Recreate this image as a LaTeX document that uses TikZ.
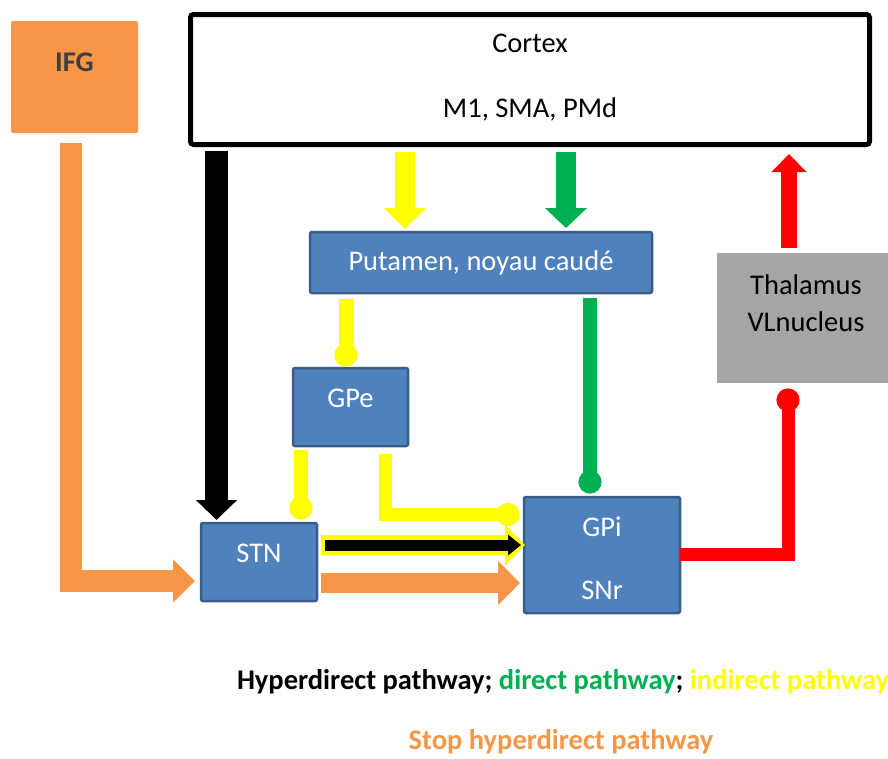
\documentclass[tikz,border=0pt]{standalone}
\usepackage{fontspec}
\setmainfont{Carlito}
\usetikzlibrary{arrows.meta,calc}
\definecolor{blu}{HTML}{4F81BD}
\definecolor{bdr}{HTML}{385D8A}
\definecolor{org}{HTML}{F79646}
\definecolor{gry}{HTML}{A5A5A5}
\definecolor{grn}{HTML}{00B050}
\definecolor{yel}{HTML}{FFFF00}
\definecolor{rd}{HTML}{FF0000}
\definecolor{dgr}{HTML}{3F3F3F}
\begin{document}
\begin{tikzpicture}[x=1pt,y=-1pt,
  every node/.style={inner sep=0pt,outer sep=0pt},
  txt/.style={font=\fontsize{28.5}{34}\selectfont,align=center},
  bluebox/.style={draw=bdr,fill=blu,line width=2.5pt,rounded corners=2pt},
  blockarrow/.style={line width=#1,line join=miter},
  dotline/.style={line width=#1,line join=miter,-{Circle[length=23pt,width=23pt]}}
]
\useasboundingbox (0,0) rectangle (888,758);

% boxes
\node[fill=org,rounded corners=2pt,minimum width=127pt,minimum height=112pt,
  label={[txt,text=dgr,font=\fontsize{28.5}{34}\selectfont\bfseries,yshift=15pt]center:IFG}]
  (ifg) at (74.5,77) {};
\node[draw=black,line width=5pt,rounded corners=3pt,minimum width=679pt,minimum height=130pt,
  label={[txt,yshift=2pt]center:{Cortex\\[31pt]M1, SMA, PMd}}]
  (cortex) at (530,79.5) {};
\node[bluebox,minimum width=342pt,minimum height=61pt,
  label={[txt,text=white]center:{Putamen, noyau caudé}}]
  (put) at (481,262.5) {};
\node[bluebox,minimum width=115pt,minimum height=78pt,
  label={[txt,text=white,yshift=9pt]center:GPe}]
  (gpe) at (350.5,407) {};
\node[bluebox,minimum width=116pt,minimum height=78pt,
  label={[txt,text=white,yshift=9pt]center:STN}]
  (stn) at (259,562) {};
\node[bluebox,minimum width=156pt,minimum height=116pt,
  label={[txt,text=white,yshift=-3.5pt]center:{GPi\\[29pt]SNr}}]
  (gpi) at (602,555) {};
\node[fill=gry,minimum width=171pt,minimum height=130pt,
  label={[txt,text=black,xshift=3.5pt,yshift=14.5pt]center:{Thalamus\\[3pt]VLnucleus}}]
  (thal) at (802.5,318) {};

% hyperdirect (black)
\draw[blockarrow=23pt,-{Triangle[length=20pt,width=40pt]}]
  ($(cortex.south)+(-313.5,6.5)$) -- ($(stn.north)+(-42.5,-3)$);
% cortex -> putamen (yellow, green)
\draw[yel,blockarrow=20pt,-{Triangle[length=21pt,width=41pt]}]
  ($(cortex.south)+(-125,7.5)$) -- ($(put.north)+(-76,-3)$);
\draw[grn,blockarrow=20pt,-{Triangle[length=20pt,width=41pt]}]
  ($(cortex.south)+(36,7.5)$) -- ($(put.north)+(85,-4)$);
% indirect
\draw[yel,dotline=15pt] ($(put.south)+(-135,6)$) -- ($(gpe.north)+(-4.5,-1.5)$);
\draw[yel,dotline=14pt] ($(gpe.south)+(-49.5,4)$) -- ($(stn.north)+(42,-3.5)$);
\draw[yel,dotline=13pt] ($(gpe.south)+(35,8)$) |- ($(gpi.west)+(-4.5,-40.5)$);
% direct
\draw[grn,dotline=14pt] ($(put.south)+(109,5)$) -- ($(gpi.north)+(-12,-3.5)$);
% output
\draw[rd,dotline=13pt] ($(gpi.east)+(0,-1)$) -| ($(thal.south)+(-14.5,5.5)$);
\draw[rd,blockarrow=16pt,-{Triangle[length=18pt,width=34pt]}]
  ($(thal.north)+(-13.5,-5)$) -- ($(cortex.south)+(259,9.5)$);
% STN -> GPi (black with yellow outline)
\draw[yel,blockarrow=20pt,-{Triangle[length=20pt,width=40pt]}]
  ($(stn.east)+(4,-17)$) -- ($(gpi.west)+(1,-10)$);
\draw[black,blockarrow=11pt,-{Triangle[length=13pt,width=20pt]}]
  ($(stn.east)+(8,-17)$) -- ($(gpi.west)+(-3,-10)$);
% stop pathway (orange)
\draw[org,blockarrow=22pt,-{Triangle[length=22pt,width=42pt]}]
  ($(ifg.south)+(-4,10)$) |- ($(stn.west)+(-6,19)$);
\draw[org,blockarrow=20pt,-{Triangle[length=22pt,width=43pt]}]
  ($(stn.east)+(4,21)$) -- ($(gpi.west)+(-4,28)$);

% legend
\node[anchor=west,font=\fontsize{28.5}{34}\selectfont\bfseries] (legend) at (237,682)
  {Hyperdirect pathway; \textcolor{grn}{direct pathway}; \textcolor{yel}{indirect pathway}};
\node[font=\fontsize{28.5}{34}\selectfont\bfseries,text=org] (stop) at (561,742)
  {Stop hyperdirect pathway};
\end{tikzpicture}
\end{document}
